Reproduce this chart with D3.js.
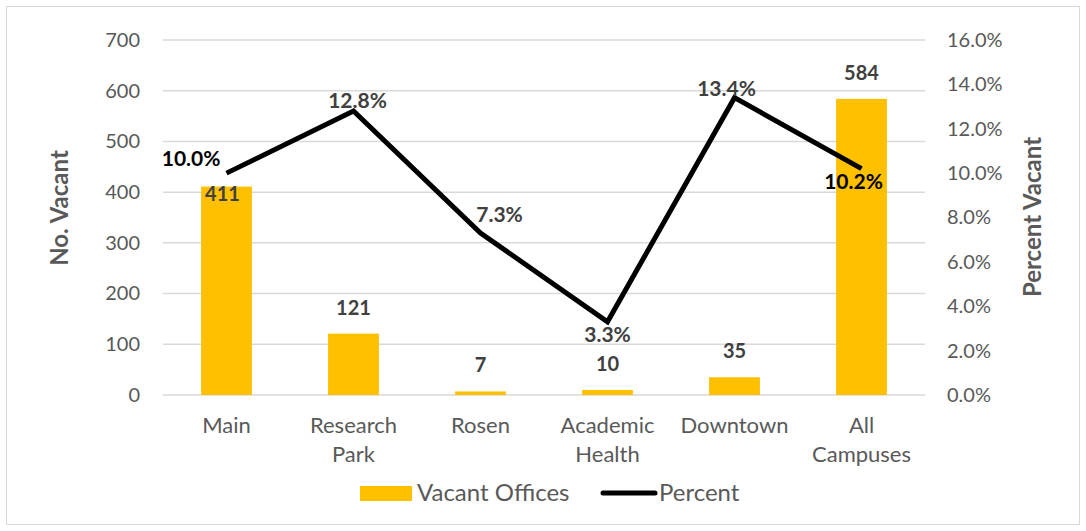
<!DOCTYPE html>
<html>
<head>
<meta charset="utf-8">
<script src="https://cdn.jsdelivr.net/npm/d3@7"></script>
<style>
  html, body { margin: 0; padding: 0; background: #fff; overflow: hidden; }
  svg { display: block; }
  svg text { font-family: Lato, "Open Sans", sans-serif; }
</style>
</head>
<body>
<div id="chart"></div>
<script>
// data
const campuses = [["Main"], ["Research", "Park"], ["Rosen"], ["Academic", "Health"], ["Downtown"], ["All", "Campuses"]];
const vacantOffices = [411, 121, 7, 10, 35, 584];
const percentVacant = [10.0, 12.8, 7.3, 3.3, 13.4, 10.2];
const leftTicks = [0, 100, 200, 300, 400, 500, 600, 700];
const rightTicks = [0, 2, 4, 6, 8, 10, 12, 14, 16];

const width = 1086, height = 531;
const margin = { top: 40, right: 161, bottom: 136, left: 163 };
const innerWidth = width - margin.left - margin.right;
const innerHeight = height - margin.top - margin.bottom;

const svg = d3.select("#chart").append("svg")
    .attr("width", width)
    .attr("height", height);

// chart frame
svg.append("rect")
    .attr("x", 6.5).attr("y", 6.5)
    .attr("width", 1073).attr("height", 518)
    .attr("fill", "#fff")
    .attr("stroke", "#d9d9d9");

const chart = svg.append("g")
    .attr("transform", `translate(${margin.left}, ${margin.top})`);

const xScale = d3.scaleBand()
    .domain(d3.range(campuses.length))
    .range([0, innerWidth]);

const yLeft = d3.scaleLinear().domain([0, 700]).range([innerHeight, 0]);
const yRight = d3.scaleLinear().domain([0, 16]).range([innerHeight, 0]);

// gridlines
chart.append("g")
    .selectAll("line")
    .data(leftTicks)
    .enter().append("line")
    .attr("x1", 0).attr("x2", innerWidth)
    .attr("y1", d => yLeft(d)).attr("y2", d => yLeft(d))
    .attr("stroke", "#d9d9d9")
    .attr("stroke-width", 1.5);

// left axis
const leftAxis = chart.append("g")
    .call(d3.axisLeft(yLeft).tickValues(leftTicks).tickSize(0).tickPadding(23));
leftAxis.select(".domain").remove();
leftAxis.selectAll("text")
    .attr("fill", "#595959")
    .style("font-size", "20px");

// right axis
const rightAxis = chart.append("g")
    .attr("transform", `translate(${innerWidth}, 0)`)
    .call(d3.axisRight(yRight).tickValues(rightTicks).tickSize(0).tickPadding(22)
        .tickFormat(d => d3.format(".1f")(d) + "%"));
rightAxis.select(".domain").remove();
rightAxis.selectAll("text")
    .attr("fill", "#595959")
    .style("font-size", "20px");

// x category labels
const xLabels = chart.append("g")
    .selectAll("text")
    .data(campuses)
    .enter().append("text")
    .attr("text-anchor", "middle")
    .attr("fill", "#595959")
    .style("font-size", "22px")
    .attr("x", (d, i) => xScale(i) + xScale.bandwidth() / 2)
    .attr("y", innerHeight + 38);
xLabels.selectAll("tspan")
    .data(d => d)
    .enter().append("tspan")
    .attr("x", function () { return this.parentNode.getAttribute("x"); })
    .attr("dy", (d, i) => i === 0 ? 0 : 29)
    .text(d => d);

// bars
const barWidth = xScale.bandwidth() * 0.4;
chart.selectAll(".bar")
    .data(vacantOffices)
    .enter().append("rect")
    .attr("class", "bar")
    .attr("x", (d, i) => xScale(i) + (xScale.bandwidth() - barWidth) / 2)
    .attr("y", d => yLeft(d))
    .attr("width", barWidth)
    .attr("height", d => innerHeight - yLeft(d))
    .attr("fill", "#FFC000");

// bar value labels (the first one sits inside the bar top, under the line)
chart.selectAll(".bar-label")
    .data(vacantOffices)
    .enter().append("text")
    .attr("class", "bar-label")
    .attr("text-anchor", "middle")
    .attr("x", (d, i) => xScale(i) + xScale.bandwidth() / 2 + (i === 0 ? -4 : 0))
    .attr("y", (d, i) => yLeft(d) + (i === 0 ? 14 : -19))
    .attr("fill", "#404040")
    .style("font-size", "20px")
    .style("font-weight", "bold")
    .text(d => d);

// percent line
const line = d3.line()
    .x((d, i) => xScale(i) + xScale.bandwidth() / 2)
    .y(d => yRight(d));

chart.append("path")
    .datum(percentVacant)
    .attr("d", line)
    .attr("fill", "none")
    .attr("stroke", "#000")
    .attr("stroke-width", 5)
    .attr("stroke-linejoin", "miter");

// percent labels, placed around each point like the original
const pctPlace = [
    { dx: -6, dy: -7, anchor: "end" },
    { dx: 4, dy: -3, anchor: "middle" },
    { dx: 19, dy: -11, anchor: "middle" },
    { dx: 0, dy: 20, anchor: "middle" },
    { dx: -8, dy: -2, anchor: "middle" },
    { dx: -8, dy: 20, anchor: "middle" }
];
chart.selectAll(".pct-label")
    .data(percentVacant)
    .enter().append("text")
    .attr("class", "pct-label")
    .attr("text-anchor", (d, i) => pctPlace[i].anchor)
    .attr("x", (d, i) => xScale(i) + xScale.bandwidth() / 2 + pctPlace[i].dx)
    .attr("y", (d, i) => yRight(d) + pctPlace[i].dy)
    .attr("fill", (d, i) => (i === 0 || i === 5) ? "#000" : "#404040")
    .style("font-size", "21px")
    .style("font-weight", "bold")
    .text(d => d3.format(".1f")(d) + "%");

// axis titles
svg.append("text")
    .attr("text-anchor", "middle")
    .attr("transform", "translate(68, 208) rotate(-90)")
    .attr("fill", "#595959")
    .style("font-size", "24px")
    .style("font-weight", "bold")
    .text("No. Vacant");

svg.append("text")
    .attr("text-anchor", "middle")
    .attr("transform", "translate(1041, 217) rotate(-90)")
    .attr("fill", "#595959")
    .style("font-size", "24px")
    .style("font-weight", "bold")
    .text("Percent Vacant");

// legend
const legend = svg.append("g");
legend.append("rect")
    .attr("x", 360).attr("y", 486)
    .attr("width", 52).attr("height", 15)
    .attr("fill", "#FFC000");
legend.append("text")
    .attr("x", 417).attr("y", 501)
    .attr("fill", "#595959")
    .style("font-size", "24px")
    .text("Vacant Offices");
legend.append("line")
    .attr("x1", 603).attr("x2", 655)
    .attr("y1", 493).attr("y2", 493)
    .attr("stroke", "#000")
    .attr("stroke-width", 5)
    .attr("stroke-linecap", "round");
legend.append("text")
    .attr("x", 659).attr("y", 501)
    .attr("fill", "#595959")
    .style("font-size", "24px")
    .text("Percent");
</script>
</body>
</html>
